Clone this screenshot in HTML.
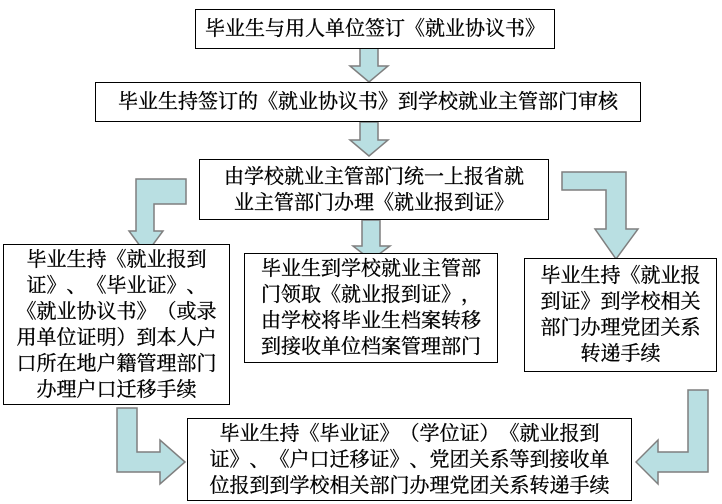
<!DOCTYPE html>
<html><head><meta charset="utf-8"><style>
body{margin:0;width:722px;height:504px;background:#fff;position:relative;overflow:hidden;font-family:"Liberation Serif","Noto Serif CJK SC","Noto Sans CJK SC",serif;}
.b{position:absolute;border:1px solid #000;background:#fff;box-sizing:border-box;display:flex;align-items:center;justify-content:center;text-align:center;font-size:20px;line-height:26px;color:#000;text-spacing-trim:space-all;font-feature-settings:"halt" 0;-webkit-text-stroke:0.35px #000;}
svg{position:absolute;left:0;top:0}
</style></head><body>
<svg width="722" height="504">
<g fill="#b9dfe2" stroke="#7f7f7f" stroke-width="1.5">
<polygon points="360,48 378,48 378,66 388,66 369,82 350,66 360,66"/>
<polygon points="360,122 378,122 378,140 388,140 369,156 350,140 360,140"/>
<polygon points="362,220 380,220 380,246 390,246 371,260 353,246 362,246"/>
<polygon points="186,179 186,204 154,204 154,231 163,231 146,254 129,231 136,231 136,179"/>
<polygon points="562,172 626,172 626,229 638,229 616,259 595,229 606,229 606,190 562,190"/>
<polygon points="117,408 137,408 137,452 160,452 160,440 185,462 160,484 160,472 117,472"/>
<polygon points="708,390 688,390 688,452 658,452 658,440 636,462 658,484 658,472 708,472"/>
</g>
</svg>
<div class="b" style="left:195px;top:9px;width:360px;height:40px">毕业生与用人单位签订《就业协议书》</div>
<div class="b" style="left:95px;top:82px;width:546px;height:40px">毕业生持签订的《就业协议书》到学校就业主管部门审核</div>
<div class="b" style="left:199px;top:159px;width:350px;height:61px">由学校就业主管部门统一上报省就<br>业主管部门办理《就业报到证》</div>
<div class="b" style="left:3px;top:244px;width:227px;height:161px">毕业生持《就业报到<br>证》、《毕业证》、<br>《就业协议书》（或录<br>用单位证明）到本人户<br>口所在地户籍管理部门<br>办理户口迁移手续</div>
<div class="b" style="left:244px;top:253px;width:254px;height:110px">毕业生到学校就业主管部<br>门领取《就业报到证》，<br>由学校将毕业生档案转移<br>到接收单位档案管理部门</div>
<div class="b" style="left:524px;top:258px;width:193px;height:114px">毕业生持《就业报<br>到证》到学校相关<br>部门办理党团关系<br>转递手续</div>
<div class="b" style="left:187px;top:418px;width:445px;height:83px">毕业生持《毕业证》（学位证）《就业报到<br>证》、《户口迁移证》、党团关系等到接收单<br>位报到到学校相关部门办理党团关系转递手续</div>
</body></html>
